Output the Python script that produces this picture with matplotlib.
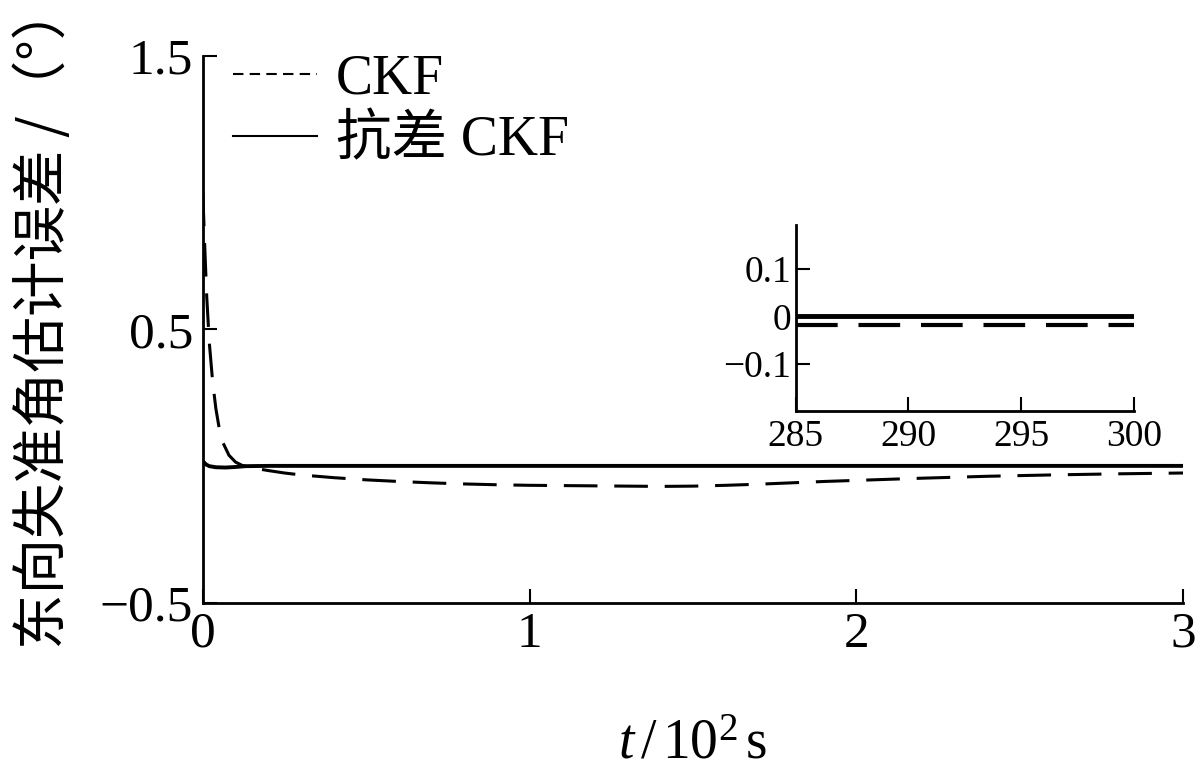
import matplotlib
matplotlib.use('Agg')
import matplotlib.pyplot as plt
from matplotlib.lines import Line2D

plt.rcParams['font.family'] = ['Liberation Serif', 'Noto Sans CJK SC', 'DejaVu Sans']
plt.rcParams['mathtext.fontset'] = 'custom'
plt.rcParams['mathtext.rm'] = 'Liberation Serif'
plt.rcParams['mathtext.it'] = 'Liberation Serif:italic'
plt.rcParams['axes.linewidth'] = 2.0
plt.rcParams['axes.unicode_minus'] = True

# main curves, t in 10^2 s
t_ckf = [0, 0.006, 0.012, 0.02, 0.03, 0.04, 0.05, 0.06, 0.08, 0.10, 0.12, 0.15,
         0.2, 0.25, 0.3, 0.4, 0.5, 0.6, 0.7, 0.8, 0.9, 1.0, 1.1, 1.2, 1.3, 1.4,
         1.5, 1.6, 1.7, 1.8, 1.9, 2.0, 2.2, 2.4, 2.6, 2.8, 3.0]
e_ckf = [1.0, 0.80, 0.62, 0.45, 0.31, 0.21, 0.14, 0.09, 0.04, 0.015, 0.003, -0.006,
         -0.016, -0.025, -0.032, -0.042, -0.050, -0.056, -0.061, -0.065, -0.068,
         -0.070, -0.071, -0.072, -0.073, -0.074, -0.073, -0.070, -0.066, -0.061,
         -0.056, -0.052, -0.044, -0.037, -0.032, -0.028, -0.025]
t_rob = [0, 0.005, 0.01, 0.02, 0.04, 0.07, 0.1, 0.13, 0.2, 3.0]
e_rob = [0.018, 0.012, 0.006, 0.0, -0.004, -0.005, -0.003, 0.0, 0.001, 0.001]

# inset, t in s
t_in = [285, 300]
e_ckf_in = [-0.018, -0.018]
e_rob_in = [0.001, 0.001]

fig = plt.figure(figsize=(12.0, 7.75), dpi=100)
ax = fig.add_axes([0.169, 0.222, 0.817, 0.706])
ax.plot(t_ckf, e_ckf, color='black', lw=2.2, dashes=(11, 5.5))
ax.plot(t_rob, e_rob, color='black', lw=2.8)
ax.set_xlim(0, 3)
ax.set_ylim(-0.5, 1.5)
ax.set_xticks([0, 1, 2, 3])
ax.set_xticklabels(['0', '1', '2', '3'])
ax.set_yticks([-0.5, 0.5, 1.5])
ax.set_yticklabels(['\u22120.5', '0.5', '1.5'])
ax.spines['top'].set_visible(False)
ax.spines['right'].set_visible(False)
ax.tick_params(direction='in', length=10, width=1.5, labelsize=37)
ax.tick_params(axis='y', pad=7)
ax.tick_params(axis='x', pad=6)
ax.set_xlabel(r'$\mathit{t}\,/\,10^{2}\,\mathrm{s}$', fontsize=40, labelpad=44)
fig.text(0.037, 0.162, '东向失准角估计误差 /（°）', rotation=90, fontsize=40,
         ha='center', va='bottom', family=['Noto Sans CJK SC', 'DejaVu Sans'])

handles = [Line2D([], [], color='black', lw=1.5, dashes=(5, 3)),
           Line2D([], [], color='black', lw=1.5)]
ax.legend(handles, ['CKF', '抗差 CKF'], loc='upper left', frameon=False,
          bbox_to_anchor=(0.031, 1.005), fontsize=40, handlelength=1.5,
          handletextpad=0.35, labelspacing=0.18, borderpad=0, borderaxespad=0)

axi = fig.add_axes([0.663, 0.470, 0.282, 0.240])
axi.plot(t_in, e_ckf_in, color='black', lw=3.0, dashes=(10, 5))
axi.plot(t_in, e_rob_in, color='black', lw=3.5)
axi.set_xlim(285, 300)
axi.set_ylim(-0.198, 0.193)
axi.set_xticks([285, 290, 295, 300])
axi.set_yticks([-0.1, 0, 0.1])
axi.set_yticklabels(['\u22120.1', '0', '0.1'])
axi.spines['top'].set_visible(False)
axi.spines['right'].set_visible(False)
axi.tick_params(direction='in', length=10, width=1.5, labelsize=27, pad=3)
axi.tick_params(axis='x', pad=6)

fig.savefig('out.png', dpi=100)
